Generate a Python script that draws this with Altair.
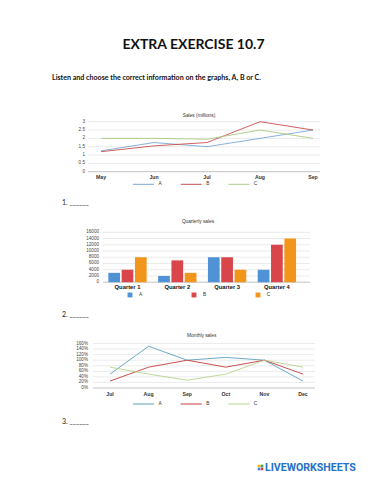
import altair as alt
import pandas as pd

# ---------------- data ----------------
series = ["A", "B", "C"]

# Chart 1: Sales (millions)
months1 = ["May", "Jun", "Jul", "Aug", "Sep"]
sales_A = [1.25, 1.75, 1.5, 2.0, 2.5]
sales_B = [1.2, 1.55, 1.75, 3.0, 2.5]
sales_C = [2.0, 2.0, 1.95, 2.5, 2.0]
ticks1 = [0, 0.5, 1, 1.5, 2, 2.5, 3]
tick_labels1 = ["0", "0.5", "1", "1.5", "2", "2.5", "3"]

# Chart 2: Quarterly sales
quarters = ["Quarter 1", "Quarter 2", "Quarter 3", "Quarter 4"]
q_A = [3000, 2000, 8000, 4000]
q_B = [4000, 7000, 8000, 12000]
q_C = [8000, 3000, 4000, 14000]
ticks2 = [0, 2000, 4000, 6000, 8000, 10000, 12000, 14000, 16000]
tick_labels2 = ["0", "2000", "4000", "6000", "8000", "10000", "12000", "14000", "16000"]

# Chart 3: Monthly sales (%)
months3 = ["Jul", "Aug", "Sep", "Oct", "Nov", "Dec"]
m_A = [50, 150, 100, 110, 100, 25]
m_B = [25, 75, 100, 75, 100, 50]
m_C = [75, 50, 28, 50, 100, 75]
ticks3 = [0, 20, 40, 60, 80, 100, 120, 140, 160]
tick_labels3 = ["0%", "20%", "40%", "60%", "80%", "100%", "120%", "140%", "160%"]

header_title = "EXTRA EXERCISE 10.7"
header_sub = "Listen and choose the correct information on the graphs, A, B or C."
titles = ["Sales (millions)", "Quarterly sales", "Monthly sales"]
questions = ["1. ______", "2. ______", "3. ______"]
logo = "LIVEWORKSHEETS"

# ---------------- styling ----------------
line_colors1 = ["#78A8D8", "#C9504F", "#A9CB80"]
bar_colors = ["#4F93D6", "#D8464B", "#F2961B"]
line_colors3 = ["#5E9FC2", "#C43E3E", "#B7D38C"]
SANS = "Liberation Sans"
HEAD = "Lato"

layers = []


def long_df(cats, vals):
    rows = []
    for s, v in zip(series, vals):
        for c, x in zip(cats, v):
            rows.append({"cat": c, "series": s, "value": x})
    return pd.DataFrame(rows)


def text_layer(txt, x, y, size, weight="normal", align="center", font=SANS, color="#333333"):
    return alt.Chart(pd.DataFrame({"t": [txt]})).mark_text(
        font=font, fontSize=size, fontWeight=weight, align=align, baseline="middle", color=color
    ).encode(x=alt.value(x), y=alt.value(y), text="t:N")


def y_grid(ticks, labels, yscale, x1, x2, label_x):
    df = pd.DataFrame({"v": ticks, "lab": labels})
    grid = alt.Chart(df).mark_rule(strokeWidth=0.6).encode(
        y=alt.Y("v:Q", scale=yscale, axis=None),
        x=alt.value(x1), x2=alt.value(x2),
        color=alt.condition("datum.v == 0", alt.value("#9a9a9a"), alt.value("#dedede")),
    )
    labs = alt.Chart(df).mark_text(font=SANS, fontSize=4.6, align="right", baseline="middle", color="#444").encode(
        y=alt.Y("v:Q", scale=yscale, axis=None), x=alt.value(label_x), text="lab:N"
    )
    return [grid, labs]


def line_legend(colors, y, xr):
    df = pd.DataFrame({"series": series})
    sc = alt.Scale(type="point", domain=series, range=xr, padding=0)
    sym = alt.Chart(df).mark_point(shape="stroke", size=441, strokeWidth=1, filled=False, opacity=1).encode(
        x=alt.X("series:N", scale=sc, axis=None), y=alt.value(y),
        color=alt.Color("series:N", scale=alt.Scale(domain=series, range=colors), legend=None),
    )
    lab = alt.Chart(df).mark_text(font=SANS, fontSize=4.8, dx=16.5, color="#333").encode(
        x=alt.X("series:N", scale=sc, axis=None), y=alt.value(y), text="series:N"
    )
    return [sym, lab]


# ---------------- header ----------------
layers.append(text_layer(header_title, 185.5, 37, 14, "bold", font=HEAD, color="#111"))
layers.append(text_layer(header_sub, 44, 70, 7.1, "bold", align="left", font=HEAD, color="#111"))

# ---------------- chart 1 ----------------
ys1 = alt.Scale(domain=[0, 3], range=[163.7, 113.7], nice=False, zero=False)
xs1 = alt.Scale(type="point", domain=months1, range=[93, 305], padding=0)
layers.append(text_layer(titles[0], 191, 107.5, 4.8))
layers += y_grid(ticks1, tick_labels1, ys1, 80, 312, 77)
layers.append(
    alt.Chart(long_df(months1, [sales_A, sales_B, sales_C])).mark_line(strokeWidth=0.9).encode(
        x=alt.X("cat:N", scale=xs1, axis=None),
        y=alt.Y("value:Q", scale=ys1, axis=None),
        color=alt.Color("series:N", scale=alt.Scale(domain=series, range=line_colors1), legend=None),
    )
)
layers.append(
    alt.Chart(pd.DataFrame({"m": months1})).mark_text(font=SANS, fontSize=5.2, fontWeight="bold", color="#333").encode(
        x=alt.X("m:N", scale=xs1, axis=None), y=alt.value(168.5), text="m:N"
    )
)
layers += line_legend(line_colors1, 176.3, [135.5, 231])
layers.append(text_layer(questions[0], 54, 195, 7, font=HEAD, align="left", color="#222"))

# ---------------- chart 2 ----------------
ys2 = alt.Scale(domain=[0, 16000], range=[274.2, 224.3], nice=False, zero=False)
xs2 = alt.Scale(type="band", domain=quarters, range=[94.6, 293.8], paddingInner=0.23, paddingOuter=0.115)
layers.append(text_layer(titles[1], 190, 213.7, 4.8))
layers += y_grid(ticks2, tick_labels2, ys2, 95, 302, 91)
layers.append(
    alt.Chart(long_df(quarters, [q_A, q_B, q_C])).mark_bar().encode(
        x=alt.X("cat:N", scale=xs2, axis=None),
        xOffset=alt.XOffset("series:N", scale=alt.Scale(domain=series, paddingInner=0.12, paddingOuter=0)),
        y=alt.Y("value:Q", scale=ys2, axis=None),
        color=alt.Color("series:N", scale=alt.Scale(domain=series, range=bar_colors), legend=None),
    )
)
layers.append(
    alt.Chart(pd.DataFrame({"q": quarters})).mark_text(font=SANS, fontSize=5.8, fontWeight="bold", color="#111").encode(
        x=alt.X("q:N", scale=xs2, axis=None), y=alt.value(278.5), text="q:N"
    )
)
leg2 = pd.DataFrame({"series": series})
ls2 = alt.Scale(type="point", domain=series, range=[122, 250], padding=0)
layers.append(
    alt.Chart(leg2).mark_square(size=24, opacity=1).encode(
        x=alt.X("series:N", scale=ls2, axis=None), y=alt.value(287),
        color=alt.Color("series:N", scale=alt.Scale(domain=series, range=bar_colors), legend=None),
    )
)
layers.append(
    alt.Chart(leg2).mark_text(font=SANS, fontSize=4.8, dx=10.5, color="#333").encode(
        x=alt.X("series:N", scale=ls2, axis=None), y=alt.value(287), text="series:N"
    )
)
layers.append(text_layer(questions[1], 54, 307, 7, font=HEAD, align="left", color="#222"))

# ---------------- chart 3 ----------------
ys3 = alt.Scale(domain=[0, 160], range=[380, 335.5], nice=False, zero=False)
xs3 = alt.Scale(type="point", domain=months3, range=[102, 295], padding=0)
layers.append(text_layer(titles[2], 193.7, 327.7, 4.8))
layers += y_grid(ticks3, tick_labels3, ys3, 85, 307, 80)
layers.append(
    alt.Chart(long_df(months3, [m_A, m_B, m_C])).mark_line(strokeWidth=0.9).encode(
        x=alt.X("cat:N", scale=xs3, axis=None),
        y=alt.Y("value:Q", scale=ys3, axis=None),
        color=alt.Color("series:N", scale=alt.Scale(domain=series, range=line_colors3), legend=None),
    )
)
layers.append(
    alt.Chart(pd.DataFrame({"m": months3})).mark_text(font=SANS, fontSize=5.2, fontWeight="bold", color="#333").encode(
        x=alt.X("m:N", scale=xs3, axis=None), y=alt.value(385.5), text="m:N"
    )
)
layers += line_legend(line_colors3, 396, [135.5, 231])
layers.append(text_layer(questions[2], 54, 414, 7, font=HEAD, align="left", color="#222"))

# ---------------- logo ----------------
for (lx, ly, col) in [(251, 458, "#F4B400"), (254, 458, "#34A853"), (251, 461, "#4285F4"), (254, 461, "#EA4335")]:
    layers.append(
        alt.Chart(pd.DataFrame({"k": [0]})).mark_square(size=7, opacity=1, color=col).encode(
            x=alt.value(lx), y=alt.value(ly)
        )
    )
layers.append(text_layer(logo, 257, 459.5, 10.6, "bold", align="left", font="Roboto", color="#2371C9"))

chart = alt.layer(*layers).resolve_scale(
    x="independent", y="independent", color="independent"
).properties(width=356, height=464, autosize="none", padding=0).configure_view(strokeWidth=0)

chart.save("out.html", embed_options={"renderer": "svg", "actions": False})
